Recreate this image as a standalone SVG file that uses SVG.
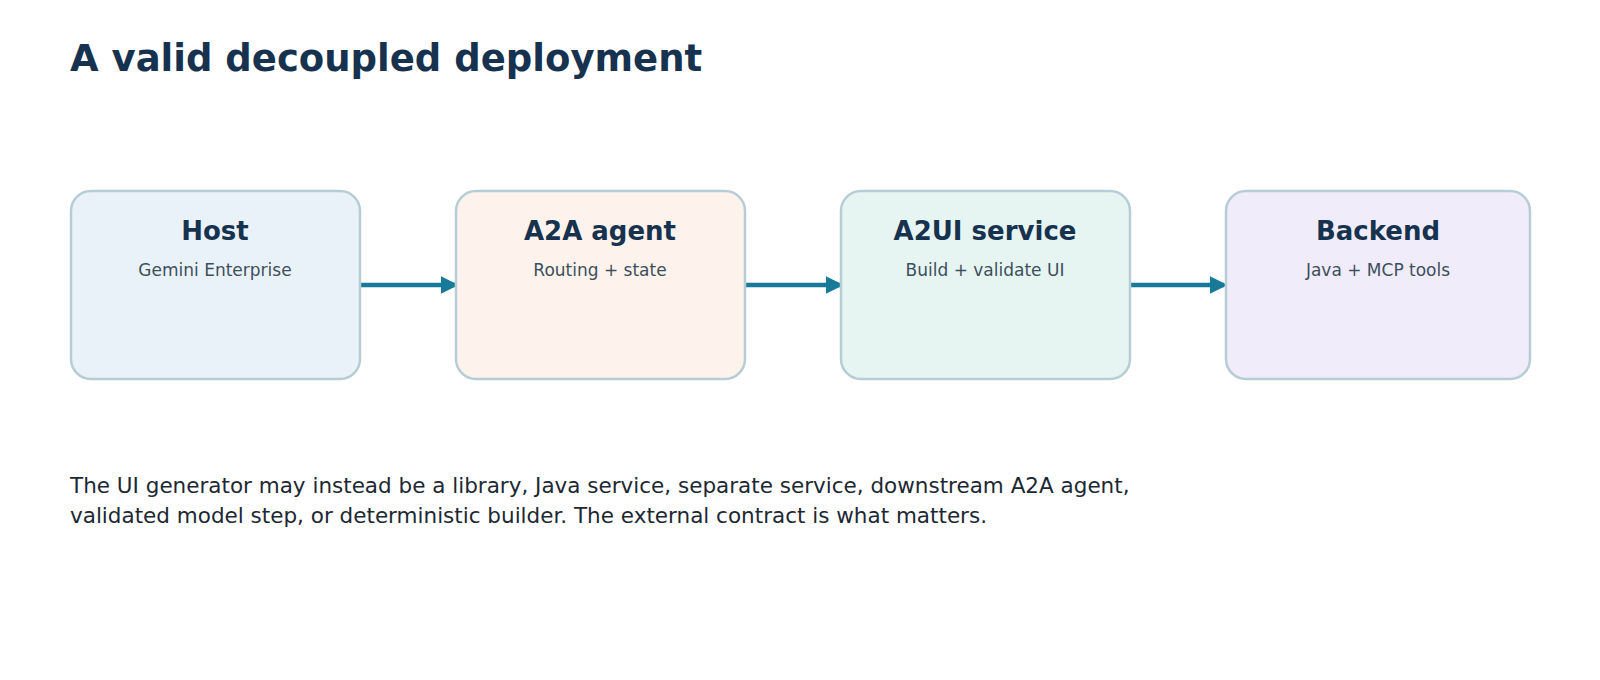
<svg xmlns="http://www.w3.org/2000/svg" width="1600" height="680" viewBox="0 0 1600 680">
<style>
.box{stroke:#b7cdd6;stroke-width:2.5}
.t{font-family:"DejaVu Sans",sans-serif;font-weight:bold;font-size:26px;fill:#17324f;text-anchor:middle}
.s{font-family:"DejaVu Sans",sans-serif;font-size:17px;fill:#3d4f5c;text-anchor:middle}
.c{stroke:#177a99;stroke-width:4.5;fill:none}
</style>
<defs><marker id="a" markerWidth="4" markerHeight="4" refX="3.2" refY="2" orient="auto"><path d="M0,0 L4,2 L0,4 Z" fill="#177a99"/></marker></defs>
<rect width="1600" height="680" fill="#fff"/>
<text x="70" y="71" font-family="DejaVu Sans,sans-serif" font-weight="bold" font-size="37" fill="#17324f">A valid decoupled deployment</text>
<g id="connectors">
<line class="c" x1="360" y1="285" x2="455" y2="285" marker-end="url(#a)"/>
<line class="c" x1="745" y1="285" x2="840" y2="285" marker-end="url(#a)"/>
<line class="c" x1="1130" y1="285" x2="1224" y2="285" marker-end="url(#a)"/>
</g>
<g id="host"><rect class="box" x="71" y="191" width="289" height="188" rx="20" fill="#eaf2f9"/><text class="t" x="215" y="240">Host</text><text class="s" x="215" y="276">Gemini Enterprise</text></g>
<g id="agent"><rect class="box" x="456" y="191" width="289" height="188" rx="20" fill="#fdf3ec"/><text class="t" x="600" y="240">A2A agent</text><text class="s" x="600" y="276">Routing + state</text></g>
<g id="a2ui"><rect class="box" x="841" y="191" width="289" height="188" rx="20" fill="#e7f5f2"/><text class="t" x="985" y="240">A2UI service</text><text class="s" x="985" y="276">Build + validate UI</text></g>
<g id="backend"><rect class="box" x="1226" y="191" width="304" height="188" rx="20" fill="#f0ecfa"/><text class="t" x="1378" y="240">Backend</text><text class="s" x="1378" y="276">Java + MCP tools</text></g>
<g font-family="DejaVu Sans,sans-serif" font-size="21.5" fill="#1c2833">
<text x="70" y="493">The UI generator may instead be a library, Java service, separate service, downstream A2A agent,</text>
<text x="70" y="523">validated model step, or deterministic builder. The external contract is what matters.</text>
</g>
</svg>
